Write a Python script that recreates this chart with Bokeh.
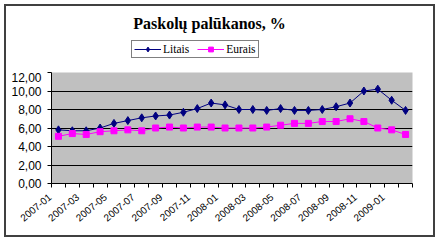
import math
from bokeh.plotting import figure
from bokeh.layouts import column
from bokeh.models import (FixedTicker, Legend, LegendItem, Range1d, Label)
from bokeh.embed import file_html
from bokeh.resources import INLINE

months = ["2007-01", "2007-02", "2007-03", "2007-04", "2007-05", "2007-06", "2007-07",
          "2007-08", "2007-09", "2007-10", "2007-11", "2007-12", "2008-01", "2008-02",
          "2008-03", "2008-04", "2008-05", "2008-06", "2008-07", "2008-08", "2008-09",
          "2008-10", "2008-11", "2008-12", "2009-01", "2009-02"]
litais = [5.8, 5.7, 5.7, 6.0, 6.5, 6.8, 7.1, 7.3, 7.4, 7.7, 8.1, 8.7,
          8.5, 8.0, 8.0, 7.9, 8.1, 7.9, 7.9, 8.0, 8.3, 8.7, 10.0, 10.2, 9.0, 7.9]
eurais = [5.1, 5.4, 5.3, 5.6, 5.7, 5.8, 5.7, 6.0, 6.1, 6.0, 6.1, 6.1,
          6.0, 6.0, 6.0, 6.1, 6.3, 6.5, 6.5, 6.7, 6.7, 7.0, 6.7, 6.0, 5.8, 5.3]
y_ticks = [0, 2, 4, 6, 8, 10, 12]
y_tick_labels = ["0,00", "2,00", "4,00", "6,00", "8,00", "10,00", "12,00"]
title_text = "Paskolų palūkanos, %"
series_names = ["Litais", "Eurais"]

LIT_COLOR = "#000080"
EUR_COLOR = "#FF00FF"
PAD = "\u00a0" * 4  # invisible padding so rotated labels end left of their category

x = list(range(1, len(months) + 1))

# ---------- header figure (title + legend) ----------
W = 427
H_TOP = 66
top = figure(width=W, height=H_TOP, output_backend="svg", toolbar_location=None,
             x_axis_type=None, y_axis_type=None,
             x_range=Range1d(0, 1), y_range=Range1d(0, 1),
             min_border_left=0, min_border_right=0, min_border_top=0, min_border_bottom=0)
top.title.visible = False
top.outline_line_color = None
top.background_fill_color = "white"
top.border_fill_color = "white"
top.xgrid.visible = False
top.ygrid.visible = False

# legend proxies (same data, lying outside this header's visible range)
tl1 = top.line(x, litais, line_color=LIT_COLOR, line_width=1)
ts1 = top.scatter(x, litais, marker="diamond", size=8, fill_color=LIT_COLOR, line_color=LIT_COLOR)
tl2 = top.line(x, eurais, line_color=EUR_COLOR, line_width=1)
ts2 = top.scatter(x, eurais, marker="square", size=6, fill_color=EUR_COLOR, line_color=EUR_COLOR)

legend = Legend(items=[LegendItem(label=series_names[0], renderers=[tl1, ts1]),
                       LegendItem(label=series_names[1], renderers=[tl2, ts2])],
                orientation="horizontal", location=(80, 14),
                label_text_font="Liberation Serif", label_text_font_size="11.5px",
                label_text_color="black",
                border_line_color="black", border_line_width=1,
                background_fill_color="white", background_fill_alpha=1,
                padding=2, spacing=8, margin=0, glyph_width=27, glyph_height=12,
                label_standoff=2, label_height=12)
top.add_layout(legend, "center")

title = Label(x=158, y=48.7, x_units="screen", y_units="screen", text=title_text,
              text_font="Liberation Serif", text_font_style="bold", text_font_size="16px",
              text_align="center", text_baseline="alphabetic", text_color="black")
top.add_layout(title)

# ---------- main chart ----------
p = figure(width=W, height=163, output_backend="svg", toolbar_location=None,
           x_range=Range1d(0.5, len(months) + 0.5), y_range=Range1d(0, 12),
           min_border_left=45, min_border_right=21, min_border_top=0, min_border_bottom=52)
p.title.visible = False
p.background_fill_color = "#C0C0C0"
p.border_fill_color = "white"
p.outline_line_color = None

p.xaxis.ticker = FixedTicker(ticks=x[::2], minor_ticks=[i + 0.5 for i in range(0, len(months) + 1)])
p.xaxis.major_label_overrides = {x[i]: months[i] + PAD for i in range(0, len(months), 2)}
p.xaxis.major_label_orientation = math.radians(40)
p.xaxis.major_tick_line_color = None
p.xaxis.minor_tick_out = 4
p.xaxis.minor_tick_in = 0
p.xaxis.minor_tick_line_color = "black"
p.xaxis.axis_line_color = "black"
p.xaxis.major_label_text_font = "Liberation Sans"
p.xaxis.major_label_text_font_size = "10px"
p.xaxis.major_label_text_color = "black"
p.xaxis.major_label_standoff = -1

p.yaxis.ticker = FixedTicker(ticks=y_ticks)
p.yaxis.major_label_overrides = {t: l for t, l in zip(y_ticks, y_tick_labels)}
p.yaxis.major_tick_out = 4
p.yaxis.major_tick_in = 0
p.yaxis.minor_tick_line_color = None
p.yaxis.axis_line_color = "black"
p.yaxis.major_tick_line_color = "black"
p.yaxis.major_label_text_font = "Liberation Sans"
p.yaxis.major_label_text_font_size = "12px"
p.yaxis.major_label_text_color = "black"
p.yaxis.major_label_standoff = 6

p.xgrid.grid_line_color = None
p.ygrid.grid_line_color = "black"
p.ygrid.grid_line_width = 1

p.line(x, litais, line_color=LIT_COLOR, line_width=1)
p.scatter(x, litais, marker="diamond", size=8, fill_color=LIT_COLOR, line_color=LIT_COLOR)
p.line(x, eurais, line_color=EUR_COLOR, line_width=1)
p.scatter(x, eurais, marker="square", size=6, fill_color=EUR_COLOR, line_color=EUR_COLOR)

layout = column(top, p, spacing=0, margin=(4, 4, 4, 4),
                styles={"border": "2px solid #404040", "background": "white"})

open("out.html", "w").write(file_html(layout, INLINE))
